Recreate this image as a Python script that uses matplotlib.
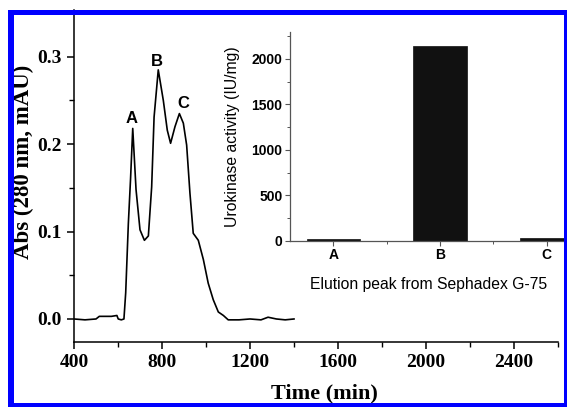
import matplotlib
matplotlib.use("Agg")
import matplotlib.pyplot as plt
from matplotlib.patches import Rectangle
from matplotlib.ticker import MultipleLocator, FormatStrFormatter

# ---------------- data ----------------
time_min = [400, 450, 500, 515, 540, 570, 595, 601, 615, 627, 635, 647, 657, 667,
            682, 700, 720, 738, 753, 764, 783, 806, 824, 839, 859, 879, 897,
            912, 927, 942, 965, 988, 1010, 1033, 1056, 1079, 1101, 1150,
            1200, 1250, 1282, 1320, 1360, 1400]
absorbance = [0.000, -0.001, 0.000, 0.003, 0.003, 0.003, 0.004, 0.000, -0.001, 0.000,
              0.030, 0.109, 0.160, 0.218, 0.148, 0.102, 0.090, 0.095, 0.151, 0.231,
              0.285, 0.250, 0.216, 0.201, 0.220, 0.235, 0.224, 0.199, 0.144,
              0.098, 0.090, 0.068, 0.041, 0.022, 0.008, 0.004, -0.001, -0.001,
              0.000, -0.001, 0.002, 0.000, -0.001, 0.000]
peak_labels = ["A", "B", "C"]
peak_label_time = [662, 776, 897]
peak_label_abs = [0.2296, 0.2944, 0.2468]

inset_categories = ["A", "B", "C"]
inset_activity = [15, 2140, 25]

x_ticks = [400, 800, 1200, 1600, 2000, 2400]
y_ticks = [0.0, 0.1, 0.2, 0.3]
inset_y_ticks = [0, 500, 1000, 1500, 2000]

# ---------------- layout helpers ----------------
W, H = 567, 407
fig = plt.figure(figsize=(W / 100, H / 100), dpi=100)
fig.patch.set_facecolor("white")


def rect(x0, y0, x1, y1):
    """pixel box (top-left origin) -> figure fraction [l, b, w, h]"""
    return [x0 / W, (H - y1) / H, (x1 - x0) / W, (y1 - y0) / H]


serif = "Liberation Serif"
sans = "Liberation Sans"

# ---------------- main axes ----------------
ax = fig.add_axes(rect(74, 10, 558, 341.7))
ax.plot(time_min, absorbance, color="black", lw=1.2, solid_joinstyle="round")
ax.set_xlim(400, 2600)
ax.set_ylim(-0.026, 0.3535)
ax.set_xticks(x_ticks)
ax.set_yticks(y_ticks)
ax.xaxis.set_minor_locator(MultipleLocator(200))
ax.yaxis.set_minor_locator(MultipleLocator(0.05))
ax.yaxis.set_major_formatter(FormatStrFormatter("%.1f"))
for s in ["top", "right"]:
    ax.spines[s].set_visible(False)
for s in ["left", "bottom"]:
    ax.spines[s].set_linewidth(1.1)
ax.tick_params(which="major", direction="out", length=5, width=1.1, pad=4)
ax.tick_params(which="minor", direction="out", length=3.5, width=1.0)
for lab in ax.get_xticklabels() + ax.get_yticklabels():
    lab.set_fontfamily(serif)
    lab.set_fontweight("bold")
    lab.set_fontsize(14)

for lbl, t, a in zip(peak_labels, peak_label_time, peak_label_abs):
    ax.text(t, a, lbl, ha="center", va="center", fontfamily=sans,
            fontweight="bold", fontsize=12)

fig.text(23 / W, 1 - 162 / H, "Abs (280 nm, mAU)", rotation=90, ha="center",
         va="center", fontfamily=serif, fontweight="bold", fontsize=16.5)
fig.text(324 / W, 1 - 383 / H, "Time (min)", ha="center", va="top",
         fontfamily=serif, fontweight="bold", fontsize=16)

# ---------------- inset ----------------
ins = fig.add_axes(rect(290, 31.7, 567, 240.7))
ins.set_facecolor("none")
xpos = list(range(len(inset_categories)))
ins.bar(xpos, inset_activity, width=0.5, color="#111111", edgecolor="#111111", lw=0.5)
ins.set_xlim(-0.406, 2.19)
ins.set_ylim(0, 2300)
ins.set_xticks(xpos)
ins.set_xticklabels(inset_categories)
ins.set_yticks(inset_y_ticks)
ins.xaxis.set_minor_locator(MultipleLocator(0.5))
ins.yaxis.set_minor_locator(MultipleLocator(250))
for s in ["top", "right"]:
    ins.spines[s].set_visible(False)
for s in ["left", "bottom"]:
    ins.spines[s].set_linewidth(0.9)
    ins.spines[s].set_color("#555555")
ins.tick_params(which="major", direction="out", length=3.5, width=0.8, pad=2,
                color="#555555")
ins.tick_params(which="minor", direction="out", length=2.5, width=0.7,
                color="#555555")
for lab in ins.get_xticklabels() + ins.get_yticklabels():
    lab.set_fontfamily(sans)
    lab.set_fontweight("bold")
    lab.set_fontsize(10)

fig.text(233 / W, 1 - 137 / H, "Urokinase activity (IU/mg)", rotation=90,
         ha="center", va="center", fontfamily=sans, fontsize=11.3)
fig.text(429 / W, 1 - 284 / H, "Elution peak from Sephadex G-75", ha="center",
         va="center", fontfamily=sans, fontsize=11.3)

# ---------------- blue frame ----------------
blue = "#0000ff"
for (x0, y0, x1, y1) in [(8, 10, 14, 407), (8, 10, 567, 15),
                         (564, 10, 567, 407), (8, 403, 567, 407)]:
    fig.patches.append(Rectangle(((x0) / W, (H - y1) / H), (x1 - x0) / W,
                                 (y1 - y0) / H, transform=fig.transFigure,
                                 facecolor=blue, edgecolor="none", zorder=10,
                                 figure=fig))

fig.savefig("out.png", dpi=100)
